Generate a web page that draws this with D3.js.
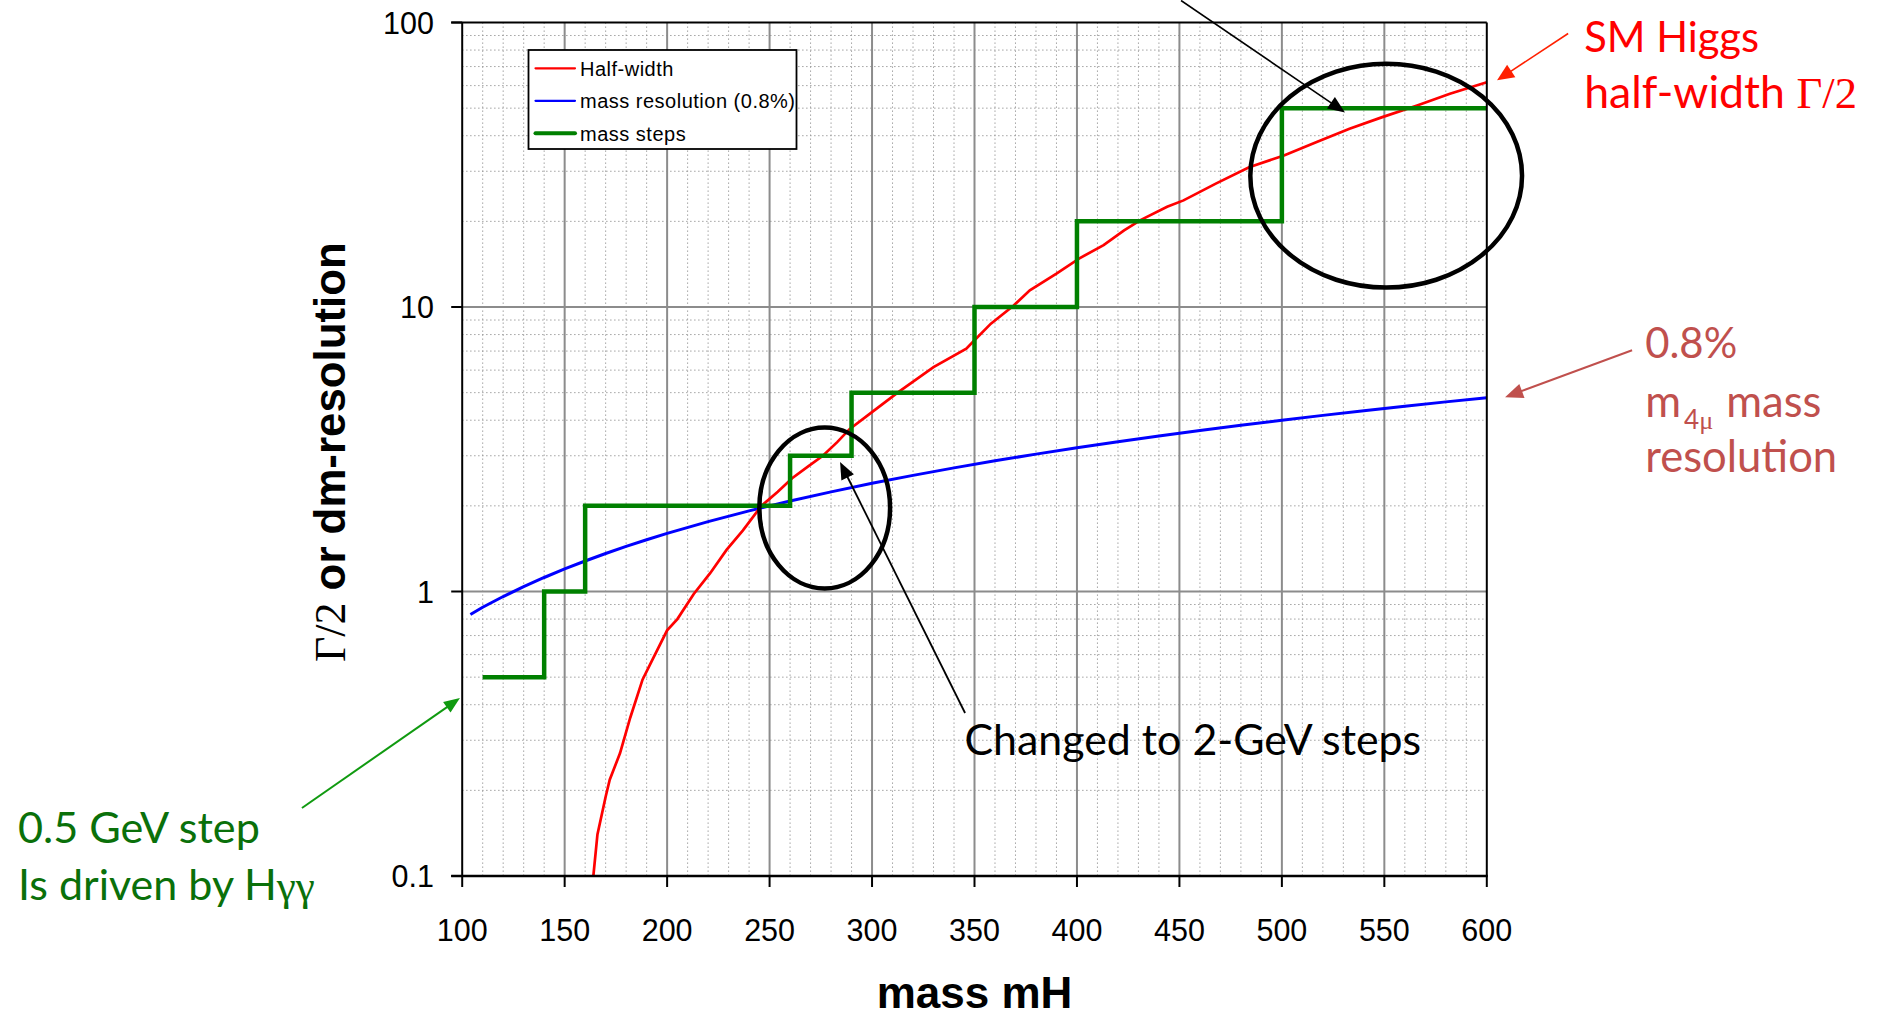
<!DOCTYPE html>
<html><head><meta charset="utf-8">
<script src="https://cdn.jsdelivr.net/npm/d3@7"></script>
<style>body{margin:0;background:#fff;} svg{display:block;}</style>
</head><body>
<svg id="c" width="1879" height="1016"></svg>
<script>
// ---------- data ----------
const xTicks = [100,150,200,250,300,350,400,450,500,550,600];
const yTicks = [0.1,1,10,100];
const yTickLabels = ["0.1","1","10","100"];

const stepEdges  = [110,140,160,260,290,350,400,500,600];
const stepValues = [0.5,1,2,3,5,10,20,50];

const widthMass  = [164,166,170,172,177,182,188,192,200,205,213,221,229,237,246,254,261,269,276,283,289,299,313,330,346,350,358,369,377,390,401,413,423,431,444,452,468,484,501,517,533,549,566,582,600];
const widthValue = [0.1,0.14,0.19,0.218,0.27,0.36,0.49,0.56,0.73,0.8,0.98,1.16,1.4,1.64,2.0,2.24,2.5,2.76,3.0,3.35,3.72,4.22,5.03,6.15,7.14,7.64,8.74,10.1,11.45,13.1,14.8,16.5,18.6,20.2,22.5,23.7,27.2,31.0,34.1,38.0,42.3,46.5,51.1,56.2,61.7];

const resMass  = [104,110,120,130,140,150,160,170,180,190,200,220,240,260,280,300,320,340,360,380,400,420,440,460,480,500,520,540,560,580,600];
const resValue = [0.83,0.88,0.96,1.04,1.12,1.2,1.28,1.36,1.44,1.52,1.6,1.76,1.92,2.08,2.24,2.4,2.56,2.72,2.88,3.04,3.2,3.36,3.52,3.68,3.84,4.0,4.16,4.32,4.48,4.64,4.8];

const legendLabels = ["Half-width","mass resolution (0.8%)","mass steps"];
const seriesColors = ["#ff0000","#0000ff","#008000"];

// ---------- layout ----------
const svg = d3.select("#c");
const L = 462.2, R = 1486.8, T = 22.5, B = 876;
const x = d3.scaleLinear().domain([100,600]).range([L,R]);
const y = d3.scaleLog().domain([0.1,100]).range([B,T]);

// grid
const g = svg.append("g");
const minorX = d3.range(110,600,10).filter(m => m % 50 !== 0);
const majorX = xTicks.filter(m => m > 100 && m < 600);
const minorY = [];
[0.1,1,10].forEach(d => { for (let k=2;k<=9;k++) minorY.push(k*d); });
const majorY = [1,10];

g.selectAll(".mx").data(minorX).join("line")
  .attr("x1",d=>x(d)).attr("x2",d=>x(d)).attr("y1",T).attr("y2",B)
  .attr("stroke","#959595").attr("stroke-width",1).attr("stroke-dasharray","1.3,2.7");
g.selectAll(".my").data(minorY).join("line")
  .attr("y1",d=>y(d)).attr("y2",d=>y(d)).attr("x1",L).attr("x2",R)
  .attr("stroke","#959595").attr("stroke-width",1).attr("stroke-dasharray","1.3,2.7");
g.selectAll(".Mx").data(majorX).join("line")
  .attr("x1",d=>x(d)).attr("x2",d=>x(d)).attr("y1",T).attr("y2",B)
  .attr("stroke","#8c8c8c").attr("stroke-width",2);
g.selectAll(".My").data(majorY).join("line")
  .attr("y1",d=>y(d)).attr("y2",d=>y(d)).attr("x1",L).attr("x2",R)
  .attr("stroke","#8c8c8c").attr("stroke-width",2);

// series
const lineXY = d3.line().x(d=>x(d[0])).y(d=>y(d[1]));
const stepPts = stepEdges.map((m,i)=>[m, stepValues[Math.min(i, stepValues.length-1)]]);
svg.append("path").datum(resMass.map((m,i)=>[m,resValue[i]]))
  .attr("d",lineXY).attr("fill","none").attr("stroke",seriesColors[1]).attr("stroke-width",3);
svg.append("path").datum(widthMass.map((m,i)=>[m,widthValue[i]]))
  .attr("d",lineXY).attr("fill","none").attr("stroke",seriesColors[0]).attr("stroke-width",2.7);
svg.append("path").datum(stepPts)
  .attr("d",d3.line().x(d=>x(d[0])).y(d=>y(d[1])).curve(d3.curveStepAfter))
  .attr("fill","none").attr("stroke",seriesColors[2]).attr("stroke-width",4.5);

// axes frame
const ax = svg.append("g").attr("stroke","#000");
ax.append("line").attr("x1",L).attr("x2",L).attr("y1",T).attr("y2",B).attr("stroke-width",2);
ax.append("line").attr("x1",R).attr("x2",R).attr("y1",T).attr("y2",B).attr("stroke-width",2);
ax.append("line").attr("x1",L-11).attr("x2",R).attr("y1",T).attr("y2",T).attr("stroke-width",2);
ax.append("line").attr("x1",L-11).attr("x2",R+1).attr("y1",B).attr("y2",B).attr("stroke-width",2.5);
ax.selectAll(".xt").data(xTicks).join("line")
  .attr("x1",d=>x(d)).attr("x2",d=>x(d)).attr("y1",B).attr("y2",B+11).attr("stroke-width",2);
ax.selectAll(".yt").data(yTicks).join("line")
  .attr("x1",L-11).attr("x2",L).attr("y1",d=>y(d)).attr("y2",d=>y(d)).attr("stroke-width",2);

svg.selectAll(".xl").data(xTicks).join("text")
  .attr("x",d=>x(d)).attr("y",941).attr("text-anchor","middle")
  .attr("font-family","Liberation Sans, Arial, sans-serif").attr("font-size",30.5).text(d=>d);
svg.selectAll(".yl").data(yTicks).join("text")
  .attr("x",434).attr("y",d=>y(d)+11).attr("text-anchor","end")
  .attr("font-family","Liberation Sans, Arial, sans-serif").attr("font-size",30.5).text((d,i)=>yTickLabels[i]);

function fit(sel, w){
  const n = sel.node(); const fs = parseFloat(sel.attr("font-size"));
  const l = n.getComputedTextLength(); sel.attr("font-size", fs*w/l);
  return sel;
}

// axis titles
svg.append("text").attr("x",(L+R)/2).attr("y",1008).attr("text-anchor","middle")
  .attr("font-family","Liberation Sans, Arial, sans-serif").attr("font-weight","bold")
  .attr("font-size",44).text("mass mH");
const yt = svg.append("text").attr("transform","translate(345,662) rotate(-90)")
  .attr("font-size",39).attr("fill","#000");
yt.append("tspan").attr("font-family","Liberation Serif, serif").text("Γ/2");
yt.append("tspan").attr("font-family","Liberation Sans, Arial, sans-serif").attr("font-weight","bold").text(" or dm-resolution");
fit(yt, 420);

// legend
const lg = svg.append("g");
lg.append("rect").attr("x",528.5).attr("y",50).attr("width",268).attr("height",99)
  .attr("fill","#fff").attr("stroke","#000").attr("stroke-width",1.8);
const lgW = [2.2,2.2,4];
legendLabels.forEach((t,i)=>{
  const yy = 68.3 + i*32.5;
  lg.append("line").attr("x1",535.5).attr("x2",575).attr("y1",yy).attr("y2",yy)
    .attr("stroke",seriesColors[i]).attr("stroke-width",lgW[i]).attr("stroke-linecap","round");
  lg.append("text").attr("x",580).attr("y",yy+7.3).attr("font-family","Liberation Sans, Arial, sans-serif")
    .attr("font-size",20).attr("letter-spacing",0.5).text(t);
});

// ---------- annotations (data coordinates) ----------
const ellipses = [
  {m1:245.0, m2:308.8, v1:1.025, v2:3.77},
  {m1:484.6, m2:617.2, v1:11.7, v2:71.6}
];
ellipses.forEach(e=>{
  svg.append("ellipse")
    .attr("cx",(x(e.m1)+x(e.m2))/2).attr("rx",(x(e.m2)-x(e.m1))/2)
    .attr("cy",(y(e.v1)+y(e.v2))/2).attr("ry",(y(e.v1)-y(e.v2))/2)
    .attr("fill","none").attr("stroke","#000").attr("stroke-width",4.5);
});

const arrows = [
  {from:[450.8,119.5], to:[530.8,48.3], color:"#000", w:1.6, hl:17, hw:14},
  {from:[345.4,0.374], to:[284.4,2.85], color:"#000", w:1.8, hl:17, hw:14},
  {from:[639.7,91.5], to:[605.0,62.6], color:"#ff2000", w:1.6, hl:17, hw:15},
  {from:[670.9,7.05], to:[608.9,4.82], color:"#c0504d", w:2, hl:18, hw:15},
  {from:[21.8,0.1734], to:[98.9,0.422], color:"#109a10", w:2, hl:16, hw:13}
];
arrows.forEach(a=>{
  const x0=x(a.from[0]), y0=y(a.from[1]), x1=x(a.to[0]), y1=y(a.to[1]);
  const ang = Math.atan2(y1-y0, x1-x0);
  const bx = x1 - a.hl*Math.cos(ang), by = y1 - a.hl*Math.sin(ang);
  svg.append("line").attr("x1",x0).attr("y1",y0).attr("x2",bx+2*Math.cos(ang)).attr("y2",by+2*Math.sin(ang))
    .attr("stroke",a.color).attr("stroke-width",a.w);
  const px = -Math.sin(ang)*a.hw/2, py = Math.cos(ang)*a.hw/2;
  svg.append("path").attr("d",`M${x1},${y1}L${bx+px},${by+py}L${bx-px},${by-py}Z`).attr("fill",a.color);
});

const annoFont = "Lato, 'Open Sans', sans-serif";
function anno(m, v, color){
  return svg.append("text").attr("x",x(m)).attr("y",y(v)).attr("fill",color)
    .attr("font-family",annoFont).attr("font-size",40);
}
let t;
t = anno(647.5,78.5,"#ff0000"); t.text("SM Higgs"); fit(t,175);
t = anno(647.5,49.9,"#ff0000"); t.append("tspan").text("half-width ");
t.append("tspan").attr("font-family","Liberation Serif, serif").text("Γ/2"); fit(t,273);
t = anno(677.3,6.6,"#c0504d"); t.text("0.8%"); fit(t,92);
const resT = anno(677.3,2.63,"#c0504d"); resT.text("resolution"); fit(resT,192);
// "m" + subscript "4μ" + "mass" as separate texts laid end to end
const fsR = parseFloat(resT.attr("font-size"));
const mT = anno(677.3,4.10,"#c0504d").attr("font-size",fsR).text("m");
const mW = mT.node().getComputedTextLength();
const subT = svg.append("text").attr("x",x(677.3)+mW+3).attr("y",y(4.10)+fsR*0.28)
  .attr("fill","#c0504d").attr("font-size",fsR*0.6);
subT.append("tspan").attr("font-family",annoFont).text("4");
subT.append("tspan").attr("font-family","Liberation Serif, serif").text("μ");
const sW = subT.node().getComputedTextLength();
anno(677.3,4.10,"#c0504d").attr("x",x(677.3)+mW+sW+3+fsR*0.3).attr("font-size",fsR).text("mass");
t = anno(-116.8,0.1307,"#0a700a"); t.text("0.5 GeV step"); fit(t,242);
t = anno(-116.8,0.0824,"#0a700a"); t.append("tspan").text("Is driven by H");
t.append("tspan").attr("font-family","Liberation Serif, serif").text("γγ"); fit(t,297);
t = anno(345.1,0.266,"#000"); t.text("Changed to 2-GeV steps"); fit(t,457);
</script>
</body></html>
